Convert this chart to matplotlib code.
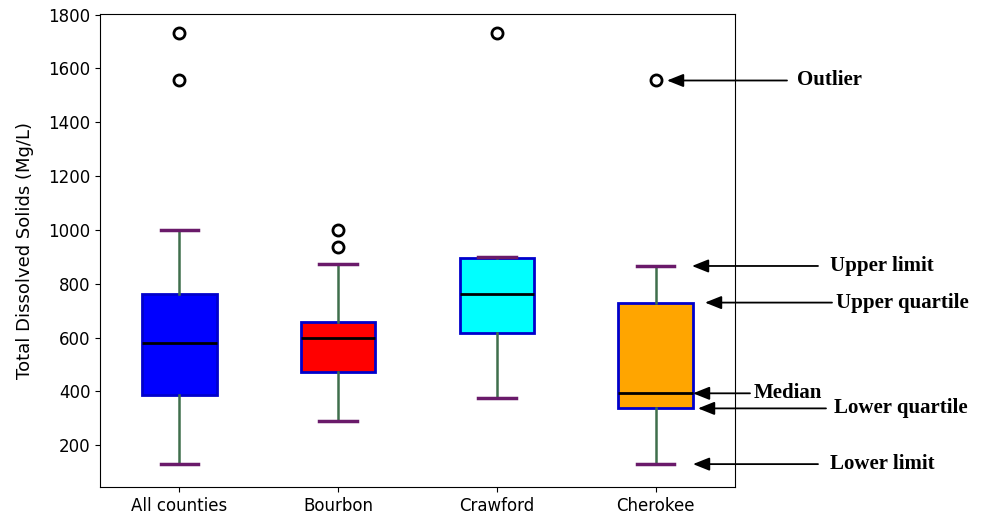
import matplotlib
matplotlib.use("Agg")
import matplotlib.pyplot as plt
import matplotlib.transforms as mtransforms

categories = ["All counties", "Bourbon", "Crawford", "Cherokee"]
whislo = [130, 289, 375, 130]
q1 = [386, 471, 618, 338]
med = [579, 600, 761, 393]
q3 = [762, 657, 895, 730]
whishi = [1000, 872, 900, 866]
outliers = [[1730, 1555], [1000, 935], [1730], [1555]]
box_colors = ["#0000ff", "#ff0000", "#00ffff", "#ffa500"]

annot_labels = ["Outlier", "Upper limit", "Upper quartile", "Median", "Lower quartile", "Lower limit"]
annot_values = [1555, 866, 730, 393, 337, 130]

stats = []
for i, c in enumerate(categories):
    stats.append(dict(label=c, whislo=whislo[i], q1=q1[i], med=med[i],
                      q3=q3[i], whishi=whishi[i], fliers=outliers[i]))

fig = plt.figure(figsize=(9.81, 5.18), dpi=100)
ax = fig.add_axes([100/981, 1-487/518, 635/981, 473/518])

bp = ax.bxp(stats, widths=0.47, patch_artist=True,
            boxprops=dict(edgecolor="#0000cc", linewidth=2),
            medianprops=dict(color="black", linewidth=2),
            whiskerprops=dict(color="#3f6f4c", linewidth=1.8, linestyle="-"),
            capprops=dict(color="#6a1a6a", linewidth=2.5),
            flierprops=dict(marker="o", markerfacecolor="white", markeredgecolor="black",
                            markersize=8, markeredgewidth=2))
for patch, col in zip(bp["boxes"], box_colors):
    patch.set_facecolor(col)

ax.set_xlim(0.5, 4.5)
ax.set_ylim(45, 1802)
ax.set_yticks([200, 400, 600, 800, 1000, 1200, 1400, 1600, 1800])
ax.tick_params(labelsize=12)
ax.set_ylabel("Total Dissolved Solids (Mg/L)", fontsize=13)
ax.yaxis.set_label_coords(-66/635, (487-250)/473)

trans = mtransforms.blended_transform_factory(ax.transAxes, ax.transData)
def fx(px):
    return (px - 100) / 635

# (arrow tip x, arrow tail x, text x) in pixels
annot_x = [(667, 787, 797), (692, 818, 830), (705, 832, 836),
           (693, 750, 754), (698, 826, 834), (693, 818, 830)]
for lab, val, (tip, tail, tx) in zip(annot_labels, annot_values, annot_x):
    ax.annotate("", xy=(fx(tip), val), xytext=(fx(tail), val),
                xycoords=trans, textcoords=trans, annotation_clip=False,
                arrowprops=dict(arrowstyle="-|>,head_length=1.0,head_width=0.4",
                                color="black", lw=1.3, shrinkA=0, shrinkB=0))
    ax.text(fx(tx), val, lab, transform=trans, ha="left", va="center",
            fontsize=15, fontweight="bold", family="Liberation Serif", clip_on=False)

fig.savefig("out.png", dpi=100)
